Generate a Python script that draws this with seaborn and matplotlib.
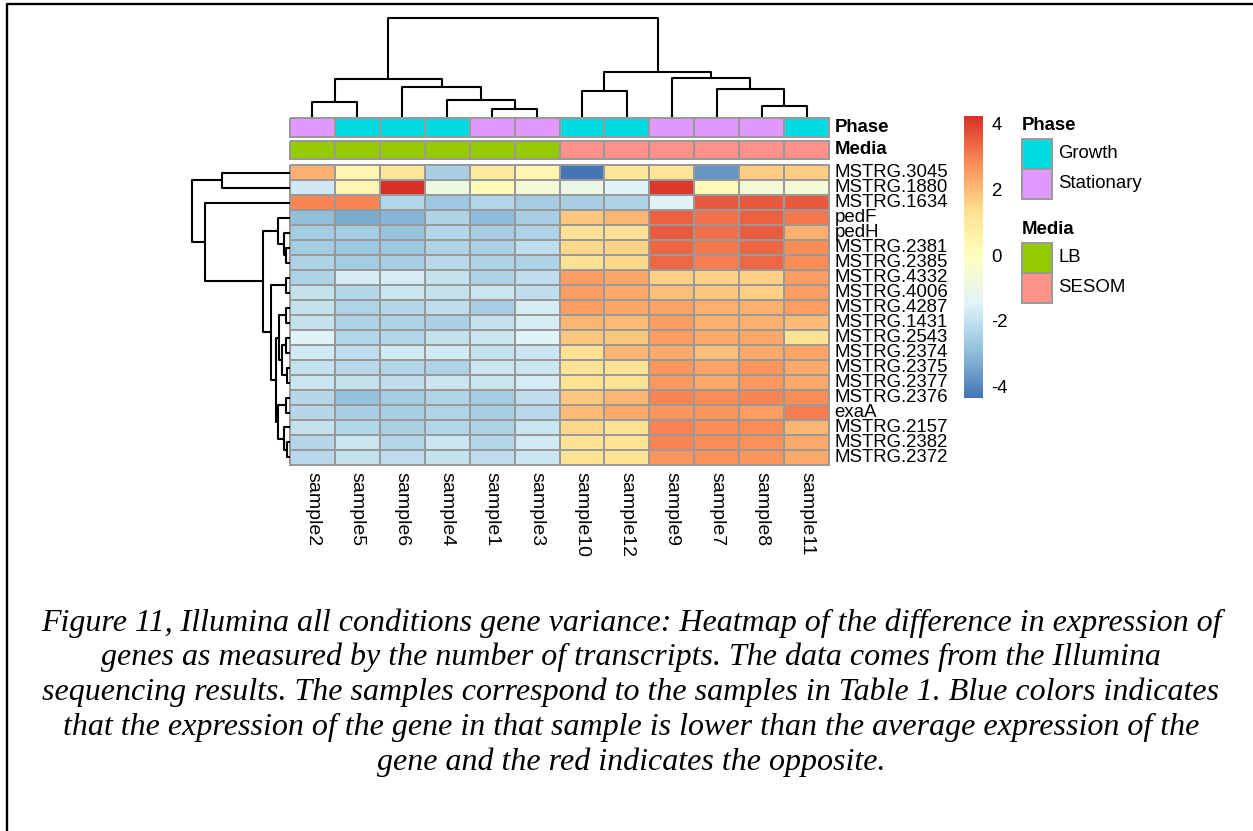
import numpy as np
import pandas as pd
import matplotlib
matplotlib.use("Agg")
import matplotlib.pyplot as plt
import seaborn as sns
from matplotlib.colors import LinearSegmentedColormap, ListedColormap
from matplotlib.patches import Rectangle

# ---------------- data ----------------
samples = ["sample2", "sample5", "sample6", "sample4", "sample1", "sample3",
           "sample10", "sample12", "sample9", "sample7", "sample8", "sample11"]
phase = ["Stationary", "Growth", "Growth", "Growth", "Stationary", "Stationary",
         "Growth", "Growth", "Stationary", "Stationary", "Stationary", "Growth"]
media = ["LB", "LB", "LB", "LB", "LB", "LB",
         "SESOM", "SESOM", "SESOM", "SESOM", "SESOM", "SESOM"]
phase_levels = ["Growth", "Stationary"]
phase_colors = ["#00DAE0", "#E199FF"]
media_levels = ["LB", "SESOM"]
media_colors = ["#96CA00", "#FF9289"]

genes = ["MSTRG.3045", "MSTRG.1880", "MSTRG.1634", "pedF", "pedH", "MSTRG.2381",
         "MSTRG.2385", "MSTRG.4332", "MSTRG.4006", "MSTRG.4287", "MSTRG.1431",
         "MSTRG.2543", "MSTRG.2374", "MSTRG.2375", "MSTRG.2377", "MSTRG.2376",
         "exaA", "MSTRG.2157", "MSTRG.2382", "MSTRG.2372"]

expr = [
    [2.2, 0.4, 1.1, -2.5, 0.9, 0.4, -4.36, 1.1, 1.2, -3.7, 1.7, 1.7],
    [-1.8, 0.4, 4.24, -0.9, 0.1, -0.6, -1.0, -1.5, 4.1, 0.1, -0.6, -0.6],
    [2.9, 2.9, -2.3, -2.7, -2.3, -2.6, -2.5, -2.4, -1.5, 3.6, 3.6, 3.6],
    [-2.9, -3.3, -3.1, -2.4, -2.95, -2.5, 1.8, 2.1, 3.5, 3.2, 3.5, 3.1],
    [-2.6, -2.6, -2.8, -2.3, -2.55, -2.4, 1.3, 1.3, 3.6, 3.25, 3.55, 2.2],
    [-2.6, -2.7, -2.7, -2.35, -2.45, -2.1, 1.5, 1.6, 3.4, 3.1, 3.4, 2.8],
    [-2.4, -2.6, -2.5, -2.2, -2.4, -2.4, 1.25, 1.5, 3.4, 3.05, 3.4, 2.8],
    [-2.4, -1.7, -1.7, -2.0, -2.4, -2.1, 2.5, 2.35, 1.65, 1.65, 1.65, 2.5],
    [-2.0, -2.3, -1.85, -2.0, -1.9, -2.1, 2.5, 2.3, 1.95, 1.8, 1.65, 2.5],
    [-2.0, -2.35, -2.25, -2.1, -2.5, -1.7, 2.5, 2.35, 2.4, 2.2, 2.2, 2.5],
    [-2.0, -2.4, -2.4, -2.45, -2.0, -1.7, 2.1, 2.0, 2.5, 2.2, 2.2, 2.0],
    [-1.5, -2.3, -2.3, -2.0, -1.85, -1.5, 1.8, 1.8, 2.5, 2.3, 2.35, 1.25],
    [-1.75, -2.1, -1.75, -1.75, -2.0, -1.9, 1.3, 2.1, 2.3, 1.95, 2.3, 2.4],
    [-2.0, -2.2, -2.3, -2.4, -1.85, -1.85, 1.25, 1.25, 2.65, 2.4, 2.65, 2.3],
    [-1.9, -2.0, -2.1, -1.9, -1.9, -1.7, 1.25, 1.25, 2.6, 2.3, 2.6, 2.3],
    [-2.25, -2.85, -2.6, -2.35, -2.6, -2.1, 1.8, 2.1, 2.9, 2.8, 2.9, 2.8],
    [-2.25, -2.5, -2.5, -2.35, -2.5, -2.2, 2.0, 2.3, 2.65, 2.65, 2.5, 3.05],
    [-2.0, -2.3, -2.45, -2.3, -2.4, -1.9, 1.5, 1.25, 2.95, 2.8, 2.8, 2.1],
    [-2.25, -1.9, -2.3, -1.9, -2.3, -1.75, 1.25, 1.25, 2.9, 2.8, 2.75, 2.3],
    [-2.2, -2.0, -2.1, -2.0, -2.1, -1.85, 1.25, 1.25, 2.65, 2.75, 2.65, 2.3],
]

# dendrogram merges: (left, right, height); leaves are 0..n-1 in display order,
# merge k gets id n+k
col_merges = [
    (4, 5, 0.081), (3, 12, 0.169), (0, 1, 0.155), (2, 13, 0.307), (14, 15, 0.385),
    (10, 11, 0.111), (6, 7, 0.26), (9, 17, 0.28), (8, 19, 0.392), (18, 20, 0.456),
    (16, 21, 1.0),
]
row_merges = [
    (0, 1, 0.69), (5, 6, 0.044), (4, 21, 0.061), (3, 22, 0.126), (7, 8, 0.044),
    (9, 10, 0.044), (11, 12, 0.04), (13, 14, 0.027), (26, 27, 0.085), (25, 28, 0.112),
    (15, 16, 0.04), (18, 19, 0.027), (17, 31, 0.06), (30, 32, 0.12), (29, 33, 0.146),
    (24, 34, 0.197), (23, 35, 0.279), (2, 36, 0.867), (20, 37, 1.0),
]

caption = [
    "Figure 11, Illumina all conditions gene variance: Heatmap of the difference in expression of",
    "genes as measured by the number of transcripts. The data comes from the Illumina",
    "sequencing results. The samples correspond to the samples in Table 1. Blue colors indicates",
    "that the expression of the gene in that sample is lower than the average expression of the",
    "gene and the red indicates the opposite.",
]

# ---------------- figure ----------------
sns.set_theme(style="white")
plt.rcParams["font.family"] = ["Liberation Sans", "DejaVu Sans"]
plt.rcParams["axes.unicode_minus"] = False
for k in ["text.color", "xtick.color", "ytick.color", "axes.labelcolor"]:
    plt.rcParams[k] = "black"

W, H = 1253, 831
fig = plt.figure(figsize=(W / 100, H / 100), dpi=100)
fig.patch.set_facecolor("white")


def add_ax(x0, y0, x1, y1, **kw):
    return fig.add_axes([x0 / W, 1 - y1 / H, (x1 - x0) / W, (y1 - y0) / H], **kw)


GRID = "#999999"
cmap = LinearSegmentedColormap.from_list(
    "rdylbu7", ["#4575B4", "#91BFDB", "#E0F3F8", "#FFFFBF", "#FEE090", "#FC8D59", "#D73027"])

df = pd.DataFrame(expr, index=genes, columns=samples)

ax = add_ax(290, 165, 829, 465)
cax = add_ax(964, 116, 983, 398)
sns.heatmap(df, ax=ax, cmap=cmap, vmin=df.values.min(), vmax=df.values.max(),
            linewidths=1.4, linecolor=GRID, cbar_ax=cax,
            cbar_kws={"ticks": [-4, -2, 0, 2, 4]},
            xticklabels=True, yticklabels=True)
ax.collections[0].set_clip_on(False)
ax.set_xlabel("")
ax.set_ylabel("")
ax.yaxis.tick_right()
ax.tick_params(axis="y", length=0, pad=4, labelsize=13.4)
ax.tick_params(axis="x", length=0, pad=5, labelsize=14)
plt.setp(ax.get_yticklabels(), rotation=0, ha="left", va="center")
plt.setp(ax.get_xticklabels(), rotation=-90, ha="center", va="top")

cbar = ax.collections[0].colorbar
cbar.outline.set_visible(False)
cax.tick_params(length=0, labelsize=13.4, pad=6)

# annotation bars
for (y0, y1, name, vals, levels, colors) in [
        (118, 137, "Phase", phase, phase_levels, phase_colors),
        (140.5, 159, "Media", media, media_levels, media_colors)]:
    a = add_ax(290, y0, 829, y1)
    codes = pd.DataFrame([[levels.index(v) for v in vals]], index=[name], columns=samples)
    sns.heatmap(codes, ax=a, cmap=ListedColormap(colors), vmin=-0.5, vmax=len(levels) - 0.5,
                cbar=False, linewidths=1.4, linecolor=GRID,
                xticklabels=False, yticklabels=True)
    a.collections[0].set_clip_on(False)
    a.set_xlabel("")
    a.set_ylabel("")
    a.yaxis.tick_right()
    a.tick_params(axis="y", length=0, pad=4, labelsize=13.4)
    plt.setp(a.get_yticklabels(), rotation=0, ha="left", va="center", fontweight="bold")
    for t in a.get_yticklabels():
        t.set_y(t.get_position()[1])


def draw_dendro(axd, merges, n, horizontal):
    pos = {i: i + 0.5 for i in range(n)}
    hgt = {i: 0.0 for i in range(n)}
    for k, (l, r, h) in enumerate(merges):
        xs = [pos[l], pos[l], pos[r], pos[r]]
        ys = [hgt[l], h, h, hgt[r]]
        if horizontal:
            axd.plot(ys, xs, color="black", lw=1.5, solid_capstyle="butt", clip_on=False)
        else:
            axd.plot(xs, ys, color="black", lw=1.5, solid_capstyle="butt", clip_on=False)
        pos[n + k] = (pos[l] + pos[r]) / 2
        hgt[n + k] = h


axc = add_ax(290, 18, 829, 117)
draw_dendro(axc, col_merges, len(samples), horizontal=False)
axc.set_xlim(0, len(samples))
axc.set_ylim(0, 1)
axc.axis("off")

axr = add_ax(192, 165, 290, 465)
draw_dendro(axr, row_merges, len(genes), horizontal=True)
axr.set_xlim(1, 0)
axr.set_ylim(len(genes), 0)
axr.axis("off")

# overlay for frame, legends and caption
ov = fig.add_axes([0, 0, 1, 1], zorder=-1)
ov.set_xlim(0, W)
ov.set_ylim(H, 0)
ov.axis("off")
ov.plot([7, 7, W], [H, 4, 4], color="black", lw=1.7, solid_capstyle="butt")

ly = 125
for title, levels, colors in [("Phase", phase_levels, phase_colors),
                              ("Media", media_levels, media_colors)]:
    ov.text(1022, ly, title, fontsize=13.4, fontweight="bold", va="center", ha="left")
    top = ly + 14
    for i, (lev, col) in enumerate(zip(levels, colors)):
        ov.add_patch(Rectangle((1022, top + 30 * i), 30, 30, facecolor=col,
                               edgecolor=GRID, lw=1.4))
        ov.text(1058, top + 30 * i + 15, lev, fontsize=13.4, va="center", ha="left")
    ly = top + 30 * len(levels) + 30

for i, line in enumerate(caption):
    ov.text(631, 623 + 34.7 * i, line, fontsize=23, family="Liberation Serif",
            style="italic", ha="center", va="center", color="black")

fig.savefig("out.png", dpi=100, facecolor="white")
